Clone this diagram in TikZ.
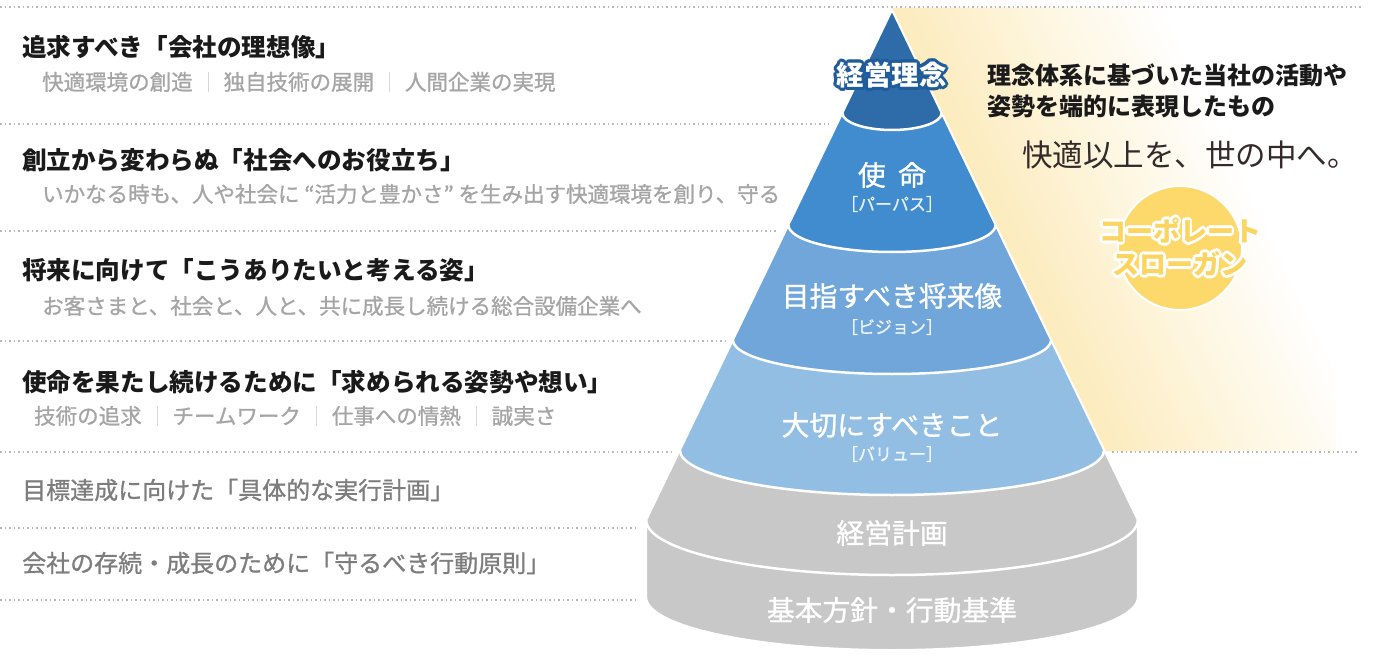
\documentclass[tikz,border=0pt]{standalone}
\usepackage{fontspec}
\newfontfamily\jp{Noto Sans CJK JP}
\newfontfamily\jpm[FakeBold=1]{Noto Sans CJK JP}
\definecolor{bandA}{RGB}{45,107,169}
\definecolor{bandB}{RGB}{65,139,207}
\definecolor{bandC}{RGB}{112,166,218}
\definecolor{bandD}{RGB}{147,190,228}
\definecolor{grayb}{RGB}{200,200,200}
\definecolor{olblue}{RGB}{32,92,155}
\definecolor{circy}{RGB}{253,216,107}
\definecolor{slogy}{RGB}{252,212,96}
\definecolor{yelc}{RGB}{252,235,188}
\definecolor{subc}{RGB}{165,165,165}
\definecolor{rowg}{RGB}{125,125,125}
\definecolor{headc}{RGB}{26,26,26}
\definecolor{dotc}{RGB}{185,185,185}
\definecolor{sepc}{RGB}{215,215,215}
\definecolor{mincho}{RGB}{52,42,42}
\newcommand\setfs[1]{\fontsize{#1}{#1}\selectfont}
\newcommand\sepbar{\hspace{0.7em}{\color{sepc}\rule[-0.1em]{0.8pt}{0.95em}}\hspace{0.7em}}
\tikzset{
  hell/.style n args={4}{insert path={
    .. controls ({#1-#3},{#2+0.5523*#4}) and ({#1-0.5523*#3},{#2+#4}) .. ({#1},{#2+#4})
    .. controls ({#1+0.5523*#3},{#2+#4}) and ({#1+#3},{#2+0.5523*#4}) .. ({#1+#3},{#2})}},
  dotline/.style={draw=dotc, line width=1.5pt, dash pattern=on 1.5pt off 3pt},
  head/.style={anchor=west, font=\jp\bfseries\setfs{24.6}, text=headc, inner sep=0pt},
  headg/.style={anchor=west, font=\jpm\setfs{24}, text=rowg, inner sep=0pt},
  subtext/.style={anchor=west, font=\jpm\setfs{21.5}, text=subc, inner sep=0pt},
  plab/.style={font=\jpm\setfs{27.8}, text=white, inner sep=0pt},
  plabb/.style={font=\jp\bfseries\setfs{27.5}, inner sep=0pt},
  brk/.style={font=\jpm\setfs{17}, text=white, text opacity=0.85, inner sep=0pt},
  arcline/.style={draw=white, line width=2.5pt},
  slogtext/.style={font=\jp\bfseries\fontsize{27}{33}\selectfont, align=center, inner sep=0pt},
}
\begin{document}
\begin{tikzpicture}[x=1pt,y=-1pt]
\useasboundingbox (0,0) rectangle (1392,655);
\fill[white] (0,0) rectangle (1392,655);

% yellow gradient wedge right of the pyramid
\begin{scope}
  \clip (892,8) -- (1335,8) -- (1335,451) -- (1104,451) -- cycle;
  \begin{scope}[shift={(892,10)}, rotate=25.7]
    \foreach \i [evaluate=\i as \p using {100*(1-\i/40)}] in {0,...,40}
      \fill[yelc!\p!white] ({\i*6.2-6},-200) rectangle ({\i*6.2+6.7},900);
  \end{scope}
\end{scope}

% dotted rules
\draw[dotline] (0,7) -- (1362,7);
\draw[dotline] (0,124) -- (829,124);
\draw[dotline] (0,231) -- (777,231);
\draw[dotline] (0,341) -- (725,341);
\draw[dotline] (0,452) -- (672,452);
\draw[dotline] (1112,452) -- (1357,452);
\draw[dotline] (0,528) -- (639,528);
\draw[dotline] (0,600) -- (639,600);

% pyramid
\coordinate (apex) at (892,10);
\fill[grayb] (apex) -- (646.2,520) -- (646.2,597) [hell={892}{597}{245.8}{53}] -- (1137.8,520) -- cycle;
\fill[bandD] (apex) -- (679.9,450) [hell={892}{450}{212.1}{45}] -- cycle;
\fill[bandC] (apex) -- (732.9,340) [hell={892}{340}{159.1}{34}] -- cycle;
\fill[bandB] (apex) -- (788.4,225) [hell={892}{225}{103.6}{27}] -- cycle;
\fill[bandA] (apex) -- (842.4,113) [hell={892}{113}{49.6}{17}] -- cycle;
\draw[arcline] (842.4,113) [hell={892}{113}{49.6}{17}];
\draw[arcline] (788.4,225) [hell={892}{225}{103.6}{27}];
\draw[arcline] (732.9,340) [hell={892}{340}{159.1}{34}];
\draw[arcline] (679.9,450) [hell={892}{450}{212.1}{45}];
\draw[arcline] (646.2,520) [hell={892}{520}{245.8}{55}];
\draw[white, line width=2pt, line join=round] (apex) -- (646.2,520) -- (646.2,597) [hell={892}{597}{245.8}{53}] -- (1137.8,520) -- cycle;

% pyramid labels
\foreach \a [count=\k] in {0,22.5,...,337.5}
  \node[plabb, text=olblue, shift={(\a:3)}] (kro\k) at (891.5,75) {経営理念};
\node[plabb, text=white] (kr) at (891.5,75) {経営理念};
\node[plab] (shimei) at (892,175) {使\hspace{0.45em}命};
\node[brk] (purpose) at (892,204) {［パーパス］};
\node[plab] (vision) at (892,296) {目指すべき将来像};
\node[brk] (visionb) at (892,327) {［ビジョン］};
\node[plab] (value) at (892,425) {大切にすべきこと};
\node[brk] (valueb) at (892,454) {［バリュー］};
\node[plab] (plan) at (892,533) {経営計画};
\node[plab] (policy) at (892,610) {基本方針・行動基準};

% right side
\node[anchor=west, align=left, inner sep=0pt, text=headc, font=\jp\bfseries\fontsize{24}{31}\selectfont] (desc) at (987,91) {理念体系に基づいた当社の活動や\\姿勢を端的に表現したもの};
\node[inner sep=0pt, text=mincho, font=\jp\setfs{30.5}] (slogan) at (1190,155) {快適以上を、世の中へ。};
\node[circle, fill=circy, draw=white, line width=2pt, minimum size=124pt, inner sep=0pt] (circ) at (1180,248) {};
\foreach \a [count=\k] in {0,22.5,...,337.5}
  \node[slogtext, text=white, shift={(\a:2.6)}] (cso\k) at (1180,247) {コーポレート\\スローガン};
\node[slogtext, text=slogy] (cs) at (1180,247) {コーポレート\\スローガン};

% left side rows
\node[head] (h1) at (22,47) {追求すべき「会社の理想像」};
\node[subtext] (s1) at (42,82) {快適環境の創造\sepbar 独自技術の展開\sepbar 人間企業の実現};
\node[head] (h2) at (22,160) {創立から変わらぬ「社会へのお役立ち」};
\node[subtext] (s2) at (42,194) {いかなる時も、人や社会に “活力と豊かさ” を生み出す快適環境を創り、守る};
\node[head] (h3) at (22,270) {将来に向けて「こうありたいと考える姿」};
\node[subtext] (s3) at (42,306) {お客さまと、社会と、人と、共に成長し続ける総合設備企業へ};
\node[head] (h4) at (22,382) {使命を果たし続けるために「求められる姿勢や想い」};
\node[subtext] (s4) at (34,416) {技術の追求\sepbar チームワーク\sepbar 仕事への情熱\sepbar 誠実さ};
\node[headg] (h5) at (22,490) {目標達成に向けた「具体的な実行計画」};
\node[headg] (h6) at (22,563) {会社の存続・成長のために「守るべき行動原則」};
\end{tikzpicture}
\end{document}
